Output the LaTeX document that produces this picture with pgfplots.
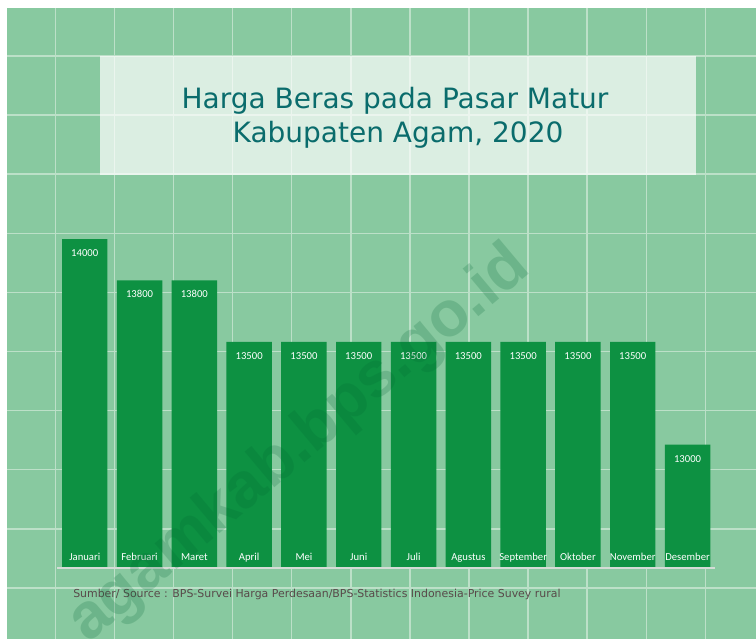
\documentclass[border=0pt]{standalone}
\usepackage{fontspec}
\setmainfont{Carlito}
\newfontfamily\titlefont{DejaVu Sans}
\newfontfamily\wmfont{Liberation Sans}
\usepackage{pgfplots}
\pgfplotsset{compat=1.18}

\definecolor{bg}{RGB}{136,201,160}
\definecolor{gridc}{RGB}{188,224,200}
\definecolor{barc}{RGB}{13,145,66}
\definecolor{titlec}{RGB}{10,108,108}
\definecolor{srcc}{RGB}{88,74,74}
\definecolor{wm}{RGB}{0,100,50}
\definecolor{basec}{RGB}{212,220,214}

\begin{document}
\begin{tikzpicture}
  % background, grid and title box in pixel units (y downwards)
  \begin{scope}[x=0.75pt,y=-0.75pt]
    \path[use as bounding box, fill=white] (0,0) rectangle (756,639);
    \fill[bg] (7,8) rectangle (756,639);
    \begin{scope}[overlay]
      \clip (7,8) rectangle (756,639);
      \foreach \k in {0,...,11}
        \draw[gridc, line width=1.1pt] ({55.3+59.1*\k},8) -- ({55.3+59.1*\k},639);
      \foreach \k in {0,...,9}
        \draw[gridc, line width=1.1pt] (7,{56+59.1*\k}) -- (756,{56+59.1*\k});
    \end{scope}
    \fill[white, opacity=0.7] (100,56) rectangle (696,175);
    \node[text=titlec, font=\titlefont\fontsize{21}{24}\selectfont, anchor=base] at (395,108) {Harga Beras pada Pasar Matur};
    \node[text=titlec, font=\titlefont\fontsize{21}{24}\selectfont, anchor=base] at (398,142) {Kabupaten Agam, 2020};
    \node[text=srcc, font=\titlefont\fontsize{8.2}{10}\selectfont, anchor=base west, inner sep=0pt] at (73,597)
      {Sumber/ Source : BPS-Survei Harga Perdesaan/BPS-Statistics Indonesia-Price Suvey rural};
  \end{scope}

  \begin{scope}[overlay]
  \begin{axis}[
    at={(43.01pt,-426pt)}, anchor=south west,
    width=493.2pt, height=277.4pt, scale only axis,
    ybar, bar width=34.1pt,
    xmin=-0.5, xmax=11.5, ymin=12400, ymax=14200,
    axis x line=bottom, axis y line=none,
    x axis line style={-, draw=basec, line width=1.2pt},
    axis on top, clip=false,
    xtick={0,...,11},
    xticklabels={Januari,Februari,Maret,April,Mei,Juni,Juli,Agustus,September,Oktober,November,Desember},
    major tick length=0pt,
    xticklabel style={text=white, font=\fontsize{8}{9}\selectfont, anchor=base, yshift=6pt},
    /pgf/number format/1000 sep={},
    /pgf/number format/assume math mode=true,
    nodes near coords,
    every node near coord/.append style={text=white, font=\fontsize{8}{9}\selectfont, anchor=center, yshift=-10.5pt},
  ]
    \addplot[fill=barc, draw=none] coordinates {
      (0,14000) (1,13800) (2,13800) (3,13500) (4,13500) (5,13500)
      (6,13500) (7,13500) (8,13500) (9,13500) (10,13500) (11,13000)
    };
  \end{axis}
  \end{scope}

  \begin{scope}[x=0.75pt,y=-0.75pt,overlay]
    \clip (7,8) rectangle (756,639);
    \node[text=wm, opacity=0.2, rotate=40, font=\wmfont\bfseries\fontsize{48}{50}\selectfont] at (300,445) {agamkab.bps.go.id};
  \end{scope}
\end{tikzpicture}
\end{document}
